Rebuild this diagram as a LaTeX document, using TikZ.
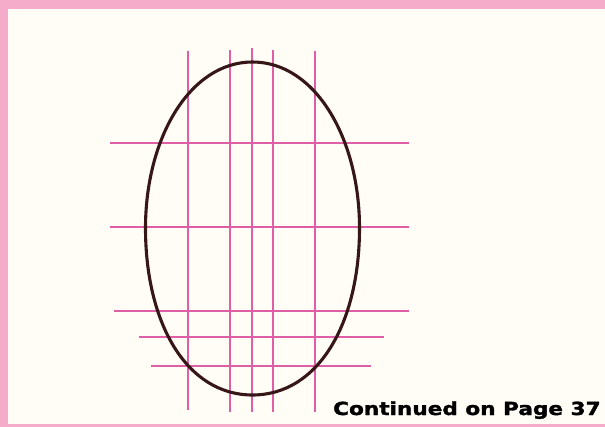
\documentclass[tikz,border=0pt]{standalone}
\usepackage{fontspec}
\newfontfamily\capfont[FakeBold=1.6]{DejaVu Sans Bold}
\definecolor{framepink}{RGB}{244,172,202}
\definecolor{paper}{RGB}{255,253,246}
\definecolor{gridpink}{RGB}{222,95,165}
\definecolor{eggline}{RGB}{55,22,24}
\tikzset{
  gridline/.style={draw=gridpink, line width=1.1pt},
  eggoutline/.style={draw=eggline, line width=3.1pt, line join=round},
  caption/.style={anchor=base west, inner sep=0pt, font=\capfont\fontsize{18}{18}\selectfont, text=black}
}
\begin{document}
\begin{tikzpicture}[x=1pt,y=-1pt]
\useasboundingbox (0,0) rectangle (605,427);
\fill[framepink] (0,0) rectangle (605,427);
\fill[paper] (8,9) rectangle (605,424);
% vertical guide lines
\draw[gridline] (188,51) -- (188,410);
\draw[gridline] (230,50) -- (230,412);
\draw[gridline] (252,48) -- (252,412);
\draw[gridline] (273,50) -- (273,412);
\draw[gridline] (315,51) -- (315,412);
% horizontal guide lines
\draw[gridline] (110,143) -- (409,143);
\draw[gridline] (110,227) -- (409,227);
\draw[gridline] (114,311) -- (409,311);
\draw[gridline] (139,337) -- (384,337);
\draw[gridline] (151,366) -- (371,366);
% egg outline
\draw[eggoutline] (145.5,228) .. controls (145.5,138) and (190,62) .. (252.5,62)
  .. controls (315,62) and (359.5,138) .. (359.5,228)
  .. controls (359.5,324) and (318,395) .. (252.5,395)
  .. controls (187,395) and (145.5,324) .. (145.5,228) -- cycle;
\node[caption] (cont) at (333,415) {\scalebox{1.2}[1]{Continued on Page 37}};
\end{tikzpicture}
\end{document}
